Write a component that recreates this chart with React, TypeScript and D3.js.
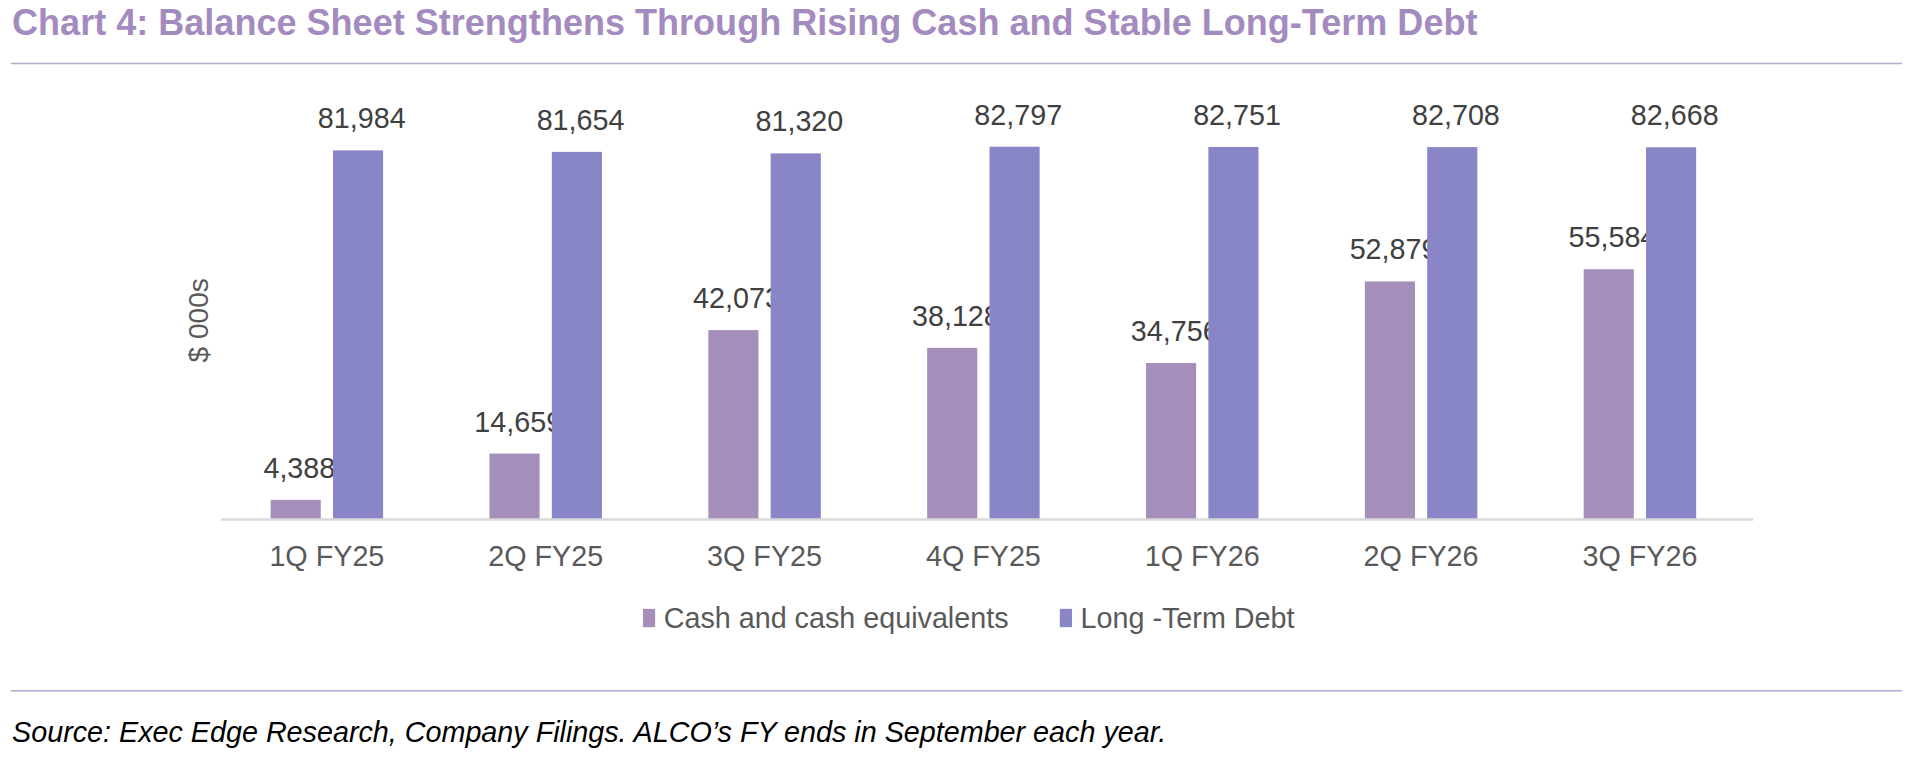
import React from 'react';
import * as d3 from 'd3';

const categories = ['1Q FY25', '2Q FY25', '3Q FY25', '4Q FY25', '1Q FY26', '2Q FY26', '3Q FY26'];
const cash = [4388, 14659, 42073, 38128, 34756, 52879, 55584];
const debt = [81984, 81654, 81320, 82797, 82751, 82708, 82668];
const seriesNames = ['Cash and cash equivalents', 'Long -Term Debt'];
const colors = ['#a58fba', '#8886c6'];

const W = 1563;
const H = 620;

export default function App() {
  const x = d3.scaleBand<string>().domain(categories).range([177, 1430]);
  const y = d3.scaleLinear().domain([0, 82797]).range([425, 120]);
  const fmt = d3.format(',');
  const barW = 41;
  const gap = 10;
  const font = 'Arial, "Liberation Sans", sans-serif';
  const series = [cash, debt];

  return (
    <svg width={1913} height={758} viewBox={`0 0 ${W} ${H}`} style={{ position: 'absolute', left: 0, top: 0 }} fontFamily={font}>
      <rect width={W} height={H} fill="#fff" />
      <text x={9} y={29} fontSize={29.5} fontWeight="bold" fill="#a48bbf">
        Chart 4: Balance Sheet Strengthens Through Rising Cash and Stable Long-Term Debt
      </text>
      <line x1={8} x2={1555} y1={52} y2={52} stroke="#b8a8d0" strokeWidth={1.2} />
      <text transform="translate(169,262) rotate(-90)" textAnchor="middle" fontSize={23} fill="#595959">$ 000s</text>
      {categories.map((c, i) => {
        const cx = x(c)! + x.bandwidth() / 2;
        return (
          <g key={c}>
            {series.map((s, k) => {
              const bx = cx + (k === 0 ? -gap / 2 - barW : gap / 2);
              return (
                <g key={k}>
                  <rect x={bx} y={y(s[i])} width={barW} height={y(0) - y(s[i])} fill={colors[k]} />
                  <text x={bx + barW / 2 + 3} y={y(s[i]) - 18} textAnchor="middle" fontSize={23.5} fill="#404040">
                    {fmt(s[i])}
                  </text>
                </g>
              );
            })}
            <text x={cx} y={463} textAnchor="middle" fontSize={23.5} fill="#595959">{c}</text>
          </g>
        );
      })}
      <line x1={180} x2={1433} y1={y(0)} y2={y(0)} stroke="#d9d9d9" strokeWidth={2} />
      {seriesNames.map((n, k) => {
        const lx = k === 0 ? 525 : 866;
        return (
          <g key={n}>
            <rect x={lx} y={498} width={10} height={15} fill={colors[k]} />
            <text x={lx + 17} y={514} fontSize={23.5} fill="#595959">{n}</text>
          </g>
        );
      })}
      <line x1={8} x2={1555} y1={565} y2={565} stroke="#b8a8d0" strokeWidth={1.2} />
      <text x={9} y={607} fontSize={23.5} fontStyle="italic" fill="#000">
        Source: Exec Edge Research, Company Filings. ALCO’s FY ends in September each year.
      </text>
    </svg>
  );
}
